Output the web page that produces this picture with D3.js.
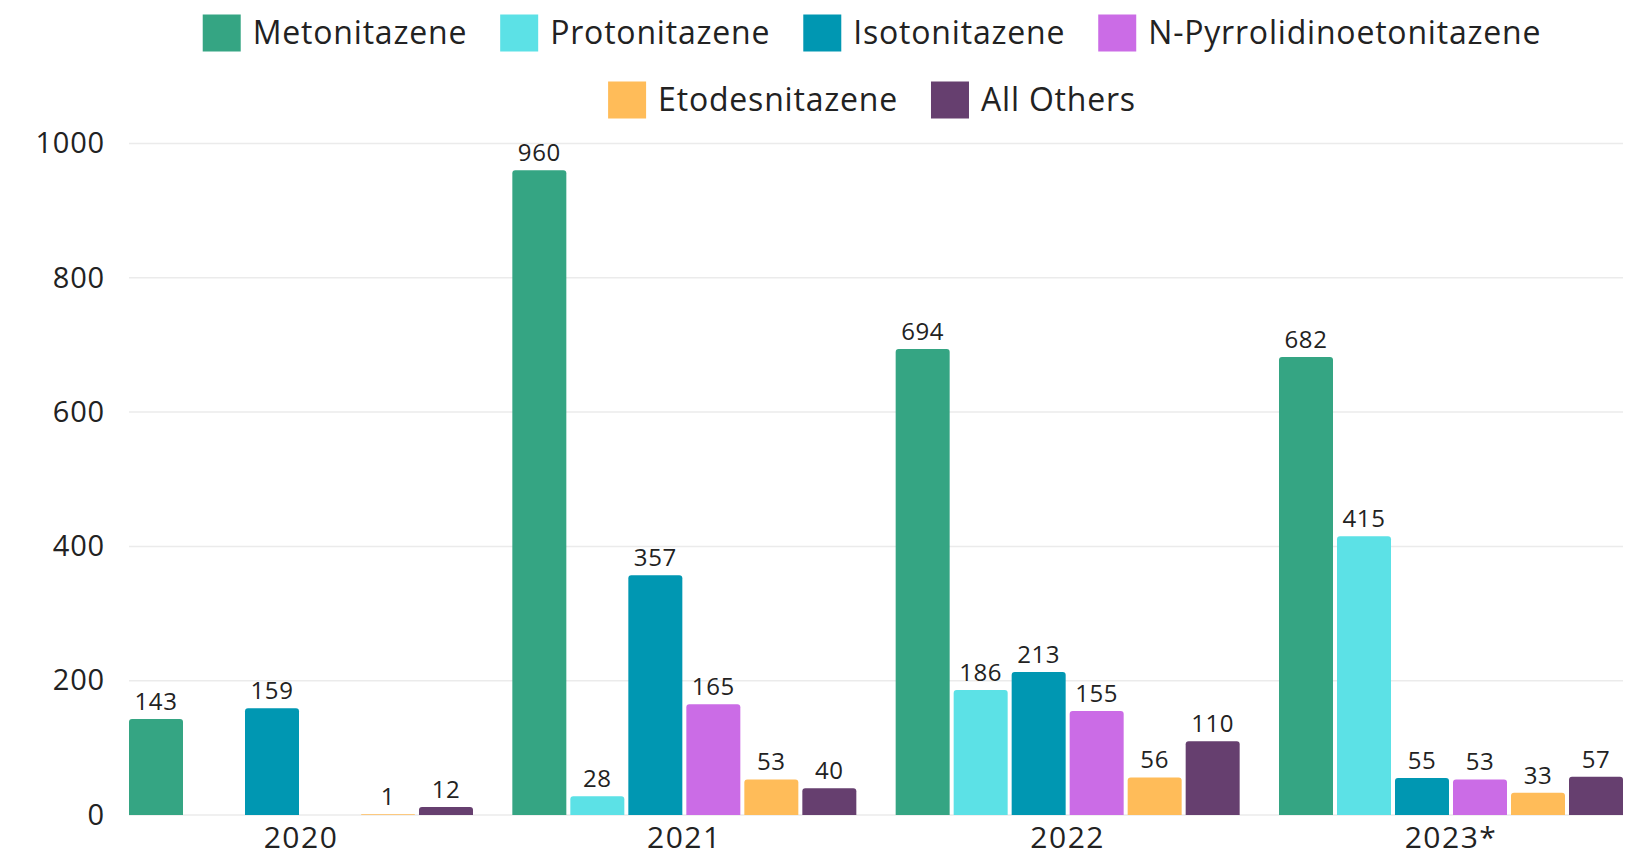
<!DOCTYPE html>
<html>
<head>
<meta charset="utf-8">
<script src="https://cdn.jsdelivr.net/npm/d3@7"></script>
<style>
  html, body { margin: 0; padding: 0; background: #fff; }
  svg { display: block; font-family: "Open Sans", Lato, sans-serif; }
</style>
</head>
<body>
<svg id="chart" width="1638" height="861"></svg>
<script>
// data
var years = ["2020", "2021", "2022", "2023*"];
var drugs = ["Metonitazene", "Protonitazene", "Isotonitazene", "N-Pyrrolidinoetonitazene", "Etodesnitazene", "All Others"];
var colors = ["#35a583", "#5ce1e6", "#0097b2", "#cb6ce6", "#ffbc59", "#663f6f"];
var metonitazene = [143, 960, 694, 682];
var protonitazene = [null, 28, 186, 415];
var isotonitazene = [159, 357, 213, 55];
var pyrrolidino = [null, 165, 155, 53];
var etodesnitazene = [1, 53, 56, 33];
var allOthers = [12, 40, 110, 57];
var yTicks = [0, 200, 400, 600, 800, 1000];

var series = [metonitazene, protonitazene, isotonitazene, pyrrolidino, etodesnitazene, allOthers];

var svg = d3.select("#chart");
var mLeft = 129, mRight = 1623, mTop = 143.5, mBottom = 815;

var x0 = d3.scaleBand().domain(years).range([mLeft, mRight]).paddingInner(0.1026).paddingOuter(0);
var x1 = d3.scaleBand().domain(drugs).range([0, x0.bandwidth()]).paddingInner(0.069).paddingOuter(0);
var y = d3.scaleLinear().domain([0, 1000]).range([mBottom, mTop]);
var color = d3.scaleOrdinal().domain(drugs).range(colors);

// grid
svg.append("g")
  .selectAll("line")
  .data(yTicks)
  .join("line")
    .attr("x1", mLeft).attr("x2", mRight)
    .attr("y1", d => y(d)).attr("y2", d => y(d))
    .attr("stroke", "#ebebeb").attr("stroke-width", 1.5);

// y axis labels
var yAxis = svg.append("g")
  .attr("transform", "translate(" + (mLeft - 24) + ",0)")
  .call(d3.axisLeft(y).tickValues(yTicks).tickFormat(d3.format("d")).tickSize(0).tickPadding(0));
yAxis.select(".domain").remove();
yAxis.selectAll("text")
  .attr("font-size", 29).attr("letter-spacing", 0.8)
  .attr("fill", "#222").attr("font-family", "'Open Sans', sans-serif");

// x axis labels
var xAxis = svg.append("g")
  .attr("transform", "translate(0," + mBottom + ")")
  .call(d3.axisBottom(x0).tickSize(0).tickPadding(12));
xAxis.select(".domain").remove();
xAxis.selectAll("text")
  .attr("font-size", 30).attr("letter-spacing", 1.5)
  .attr("fill", "#222").attr("font-family", "'Open Sans', sans-serif");

// one cell per year and drug
var cells = [];
years.forEach(function (yr, i) {
  drugs.forEach(function (dg, j) {
    cells.push({ year: yr, drug: dg, value: series[j][i] });
  });
});
var bars = cells.filter(d => d.value !== null);

function barPath(d) {
  var bx = x0(d.year) + x1(d.drug), w = x1.bandwidth();
  var by = y(d.value), h = mBottom - by;
  var r = Math.min(3, h);
  return "M" + bx + "," + mBottom +
    "V" + (by + r) +
    "Q" + bx + "," + by + " " + (bx + r) + "," + by +
    "H" + (bx + w - r) +
    "Q" + (bx + w) + "," + by + " " + (bx + w) + "," + (by + r) +
    "V" + mBottom + "Z";
}

svg.append("g")
  .selectAll("path")
  .data(bars)
  .join("path")
    .attr("d", barPath)
    .attr("fill", d => color(d.drug));

svg.append("g")
  .selectAll("text")
  .data(bars)
  .join("text")
    .attr("x", d => x0(d.year) + x1(d.drug) + x1.bandwidth() / 2)
    .attr("y", d => y(d.value) - 9)
    .attr("text-anchor", "middle")
    .attr("font-size", 24)
    .attr("letter-spacing", 0.6)
    .attr("fill", "#222")
    .text(d => d.value);

// legend, wrapped into rows and centred over the plot
var legend = svg.append("g");
var items = legend.selectAll("g")
  .data(drugs)
  .join("g");
items.append("rect")
  .attr("width", 38).attr("height", 37).attr("y", -18.5)
  .attr("fill", d => color(d));
items.append("text")
  .attr("x", 50).attr("dy", "0.35em")
  .attr("font-size", 32).attr("letter-spacing", 0.8)
  .attr("fill", "#222")
  .text(d => d);

var rows = [], row = [], rowW = 0, gap = 33, maxW = 1440;
items.each(function () {
  var w = this.getBBox().width;
  if (row.length && rowW + gap + w > maxW) { rows.push({ items: row, width: rowW }); row = []; rowW = 0; }
  rowW += (row.length ? gap : 0) + w;
  row.push({ node: this, w: w });
});
rows.push({ items: row, width: rowW });

var cx = (mLeft + mRight) / 2 - 4;
rows.forEach(function (r, ri) {
  var xx = cx - r.width / 2;
  r.items.forEach(function (it) {
    d3.select(it.node).attr("transform", "translate(" + xx + "," + (33 + ri * 67) + ")");
    xx += it.w + gap;
  });
});
</script>
</body>
</html>
